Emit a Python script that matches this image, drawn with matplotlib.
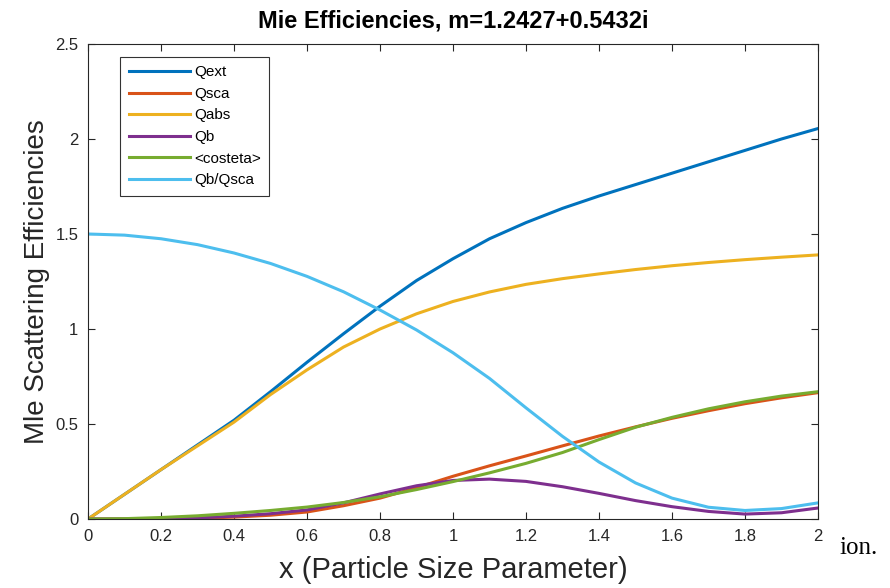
import numpy as np
import matplotlib
matplotlib.use("Agg")
import matplotlib.pyplot as plt

plt.rcParams['font.family'] = ['Liberation Sans', 'DejaVu Sans']

# values, x step 0.1
x = [0.0, 0.1, 0.2, 0.3, 0.4, 0.5, 0.6, 0.7, 0.8, 0.9, 1.0,
     1.1, 1.2, 1.3, 1.4, 1.5, 1.6, 1.7, 1.8, 1.9, 2.0]
qext = [0.0, 0.13, 0.26, 0.39, 0.52, 0.67, 0.825, 0.975, 1.12, 1.255, 1.37,
        1.475, 1.56, 1.635, 1.70, 1.76, 1.82, 1.88, 1.94, 2.0, 2.055]
qsca = [0.0, 0.0, 0.001, 0.004, 0.01, 0.02, 0.037, 0.07, 0.11, 0.165, 0.225,
        0.28, 0.332, 0.385, 0.437, 0.485, 0.53, 0.57, 0.607, 0.638, 0.665]
qabs = [0.0, 0.13, 0.26, 0.385, 0.51, 0.655, 0.785, 0.905, 1.0, 1.08, 1.145,
        1.195, 1.235, 1.265, 1.29, 1.313, 1.333, 1.35, 1.365, 1.378, 1.39]
qb = [0.0, 0.0, 0.002, 0.006, 0.015, 0.028, 0.048, 0.085, 0.132, 0.175, 0.203,
      0.21, 0.198, 0.17, 0.135, 0.097, 0.065, 0.04, 0.026, 0.033, 0.058]
costeta = [0.0, 0.002, 0.008, 0.017, 0.03, 0.045, 0.063, 0.087, 0.117, 0.155, 0.197,
           0.243, 0.293, 0.35, 0.418, 0.483, 0.535, 0.58, 0.617, 0.647, 0.67]
qb_qsca = [1.5, 1.494, 1.475, 1.444, 1.40, 1.345, 1.277, 1.196, 1.10, 0.995, 0.875,
           0.74, 0.585, 0.435, 0.30, 0.19, 0.11, 0.062, 0.045, 0.055, 0.085]

series = [
    ('Qext', qext, '#0072BD'),
    ('Qsca', qsca, '#D95319'),
    ('Qabs', qabs, '#EDB120'),
    ('Qb', qb, '#7E2F8E'),
    ('<costeta>', costeta, '#77AC30'),
    ('Qb/Qsca', qb_qsca, '#4DBEEE'),
]

fig = plt.figure(figsize=(8.9, 5.88), dpi=100)
ax = fig.add_axes([0.0989, 0.1173, 0.8202, 0.8079])

for name, vals, col in series:
    ax.plot(x, vals, color=col, lw=2.2, label=name, solid_joinstyle='round')

ax.set_xlim(0, 2)
ax.set_ylim(0, 2.5)
ax.set_xticks(np.arange(0, 2.01, 0.2))
ax.set_xticklabels(['0', '0.2', '0.4', '0.6', '0.8', '1', '1.2', '1.4', '1.6', '1.8', '2'])
ax.set_yticks([0, 0.5, 1, 1.5, 2, 2.5])
ax.set_yticklabels(['0', '0.5', '1', '1.5', '2', '2.5'])

grey = '#262626'
ax.tick_params(direction='in', top=True, right=True, length=5, width=0.8,
               labelsize=12, colors=grey, pad=7)
for s in ax.spines.values():
    s.set_color(grey)
    s.set_linewidth(0.8)

ax.set_title('Mie Efficiencies, m=1.2427+0.5432i', fontsize=17, fontweight='bold',
             pad=12)
ax.set_xlabel('x (Particle Size Parameter)', fontsize=21, color=grey, labelpad=9)
ax.set_ylabel('Mle Scattering Efficiencies', fontsize=20, color=grey, labelpad=4)

leg = ax.legend(loc='upper left', bbox_to_anchor=(0.044, 0.973), fontsize=11,
                frameon=True, fancybox=False, edgecolor='black',
                handlelength=4.0, handletextpad=0.3, labelspacing=0.5,
                borderpad=0.55, borderaxespad=0)
leg.get_frame().set_linewidth(0.8)

fig.text(0.943, 0.068, 'ion.', fontsize=18, family='Liberation Serif',
         ha='left', va='center')

fig.savefig('out.png', dpi=100)
